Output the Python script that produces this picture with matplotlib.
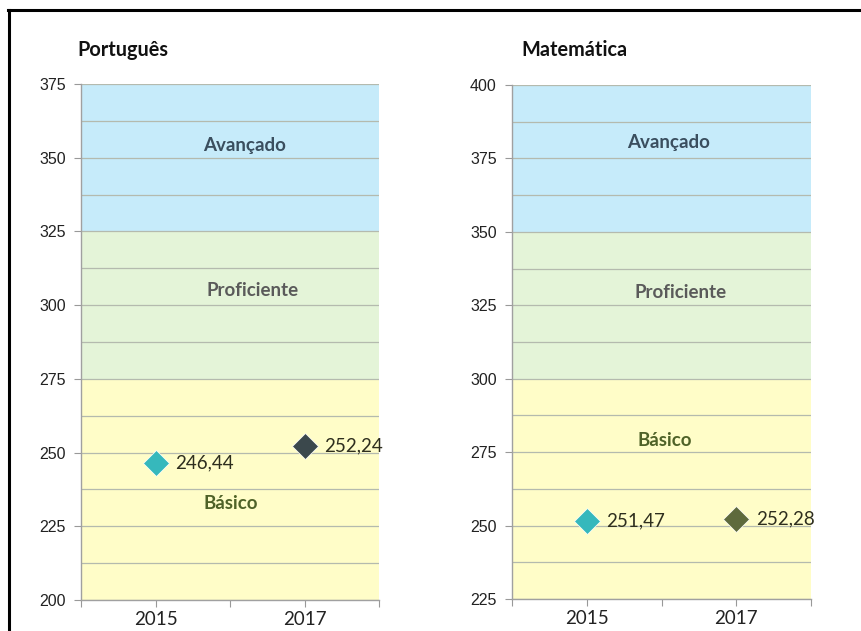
import matplotlib
matplotlib.use("Agg")
import matplotlib.pyplot as plt
from matplotlib.lines import Line2D
import numpy as np

# ---- data ----
years = ["2015", "2017"]
year_pos = [1, 3]
x_ticks = [0, 1, 2, 3, 4]
x_ticklabels = ["", "2015", "", "2017", ""]

pt_title = "Português"
pt_values = [246.44, 252.24]
pt_labels = ["246,44", "252,24"]
pt_ylim = (200, 375)
pt_bands = [("Básico", 200, 275), ("Proficiente", 275, 325), ("Avançado", 325, 375)]
pt_band_text_pos = {"Avançado": (2.19, 354.3), "Proficiente": (2.30, 304.8), "Básico": (2.01, 232.6)}

mt_title = "Matemática"
mt_values = [251.47, 252.28]
mt_labels = ["251,47", "252,28"]
mt_ylim = (225, 400)
mt_bands = [("Básico", 225, 300), ("Proficiente", 300, 350), ("Avançado", 350, 400)]
mt_band_text_pos = {"Avançado": (2.10, 380.3), "Proficiente": (2.25, 329.2), "Básico": (2.05, 278.8)}

band_colors = {"Avançado": "#C6EBFA", "Proficiente": "#E4F4D8", "Básico": "#FFFDC8"}
band_text_colors = {"Avançado": "#3A4E5E", "Proficiente": "#5A5A5A", "Básico": "#4F6228"}

marker_colors_pt = ["#36B8BC", "#3B484C"]
marker_colors_mt = ["#36B8BC", "#5E6A3C"]

FONT = "Lato"

fig = plt.figure(figsize=(8.61, 6.31), dpi=100)
fig.patch.set_facecolor("white")


def draw(ax, title, values, labels, ylim, bands, textpos, mcolors):
    ax.set_xlim(0, 4)
    ax.set_ylim(*ylim)
    for name, lo, hi in bands:
        ax.axhspan(lo, hi, color=band_colors[name], zorder=0, lw=0)
    ax.set_yticks(np.arange(ylim[0], ylim[1] + 0.1, 25))
    ax.set_yticks(np.arange(ylim[0], ylim[1] + 0.1, 12.5), minor=True)
    ax.grid(True, axis="y", which="both", color="#B4BAAE", lw=0.9, zorder=1)
    ax.set_xticks(x_ticks)
    ax.set_xticklabels(x_ticklabels, fontsize=13.5, family=FONT, color="#222222")
    ax.tick_params(axis="y", which="minor", length=0)
    ax.tick_params(axis="y", which="major", length=5, color="#999999", labelsize=11.5,
                   labelcolor="#222222", pad=6)
    ax.tick_params(axis="x", length=5, color="#999999", pad=3)
    for lab in ax.get_yticklabels():
        lab.set_family("Liberation Sans")
    for s in ["top", "right"]:
        ax.spines[s].set_visible(False)
    for s in ["left", "bottom"]:
        ax.spines[s].set_color("#A0A0A0")
        ax.spines[s].set_linewidth(1.0)
    for x, v, l, c in zip(year_pos, values, labels, mcolors):
        ax.plot([x], [v], marker="D", ms=13, color=c, mec="white", mew=0.5, zorder=5,
                clip_on=False)
        ax.annotate(l, (x, v), xytext=(14, 0), textcoords="offset points",
                    va="center", ha="left", fontsize=13.5, family=FONT, color="#2E2E1E",
                    zorder=6)
    for name, (tx, ty) in textpos.items():
        ax.text(tx, ty, name, ha="center", va="center", fontsize=13.5, fontweight="bold",
                family=FONT, color=band_text_colors[name], zorder=4)


ax1 = fig.add_axes([81 / 861, 1 - 600 / 631, (379 - 81) / 861, (600 - 84) / 631])
draw(ax1, pt_title, pt_values, pt_labels, pt_ylim, pt_bands, pt_band_text_pos, marker_colors_pt)
ax2 = fig.add_axes([512 / 861, 1 - 599 / 631, (811 - 512) / 861, (599 - 85) / 631])
draw(ax2, mt_title, mt_values, mt_labels, mt_ylim, mt_bands, mt_band_text_pos, marker_colors_mt)

fig.text(77 / 861, 1 - 50 / 631, pt_title, ha="left", va="center", fontsize=14.3,
         fontweight="bold", family=FONT, color="#111111")
fig.text(521 / 861, 1 - 50 / 631, mt_title, ha="left", va="center", fontsize=14.3,
         fontweight="bold", family=FONT, color="#111111")

# frame lines (top and left)
fig.add_artist(Line2D([8 / 861, 1.0], [1 - 9.5 / 631, 1 - 9.5 / 631], color="black", lw=2.2,
                      transform=fig.transFigure))
fig.add_artist(Line2D([8.5 / 861, 8.5 / 861], [0, 1 - 9.5 / 631], color="black", lw=2.2,
                      transform=fig.transFigure))

fig.savefig("out.png", dpi=100)
